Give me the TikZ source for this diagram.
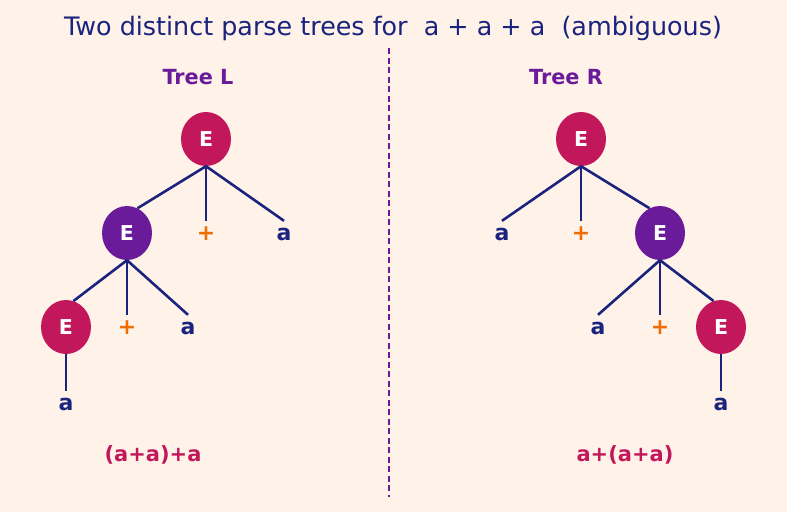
\documentclass[tikz,border=0pt]{standalone}
\usepackage{fontspec}
\setmainfont{DejaVu Sans}
\usetikzlibrary{shapes.geometric}
\definecolor{bgcream}{HTML}{FFF2E8}
\definecolor{crimson}{HTML}{C2185B}
\definecolor{grape}{HTML}{6A1B9A}
\definecolor{navy}{HTML}{1A237E}
\definecolor{tangerine}{HTML}{EF6C00}

\begin{document}
\begin{tikzpicture}
			[x=1pt,y=-1pt,
			nt/.style={ellipse,minimum width=50pt,minimum height=54pt,inner sep=0pt,text=white,font=\fontsize{20.5}{20}\selectfont\bfseries},
			lf/.style={inner sep=0pt,minimum height=26pt,text height=12pt,text depth=0pt,text=navy,font=\fontsize{22}{22}\selectfont\bfseries},
			pl/.style={lf,text=tangerine},
			edge/.style={navy,line width=2.6pt},
			head/.style={text=grape,font=\fontsize{20.8}{21}\selectfont\bfseries},
			res/.style={text=crimson,font=\fontsize{21}{21}\selectfont\bfseries}]
			\fill[bgcream] (0,0) rectangle (787,512);
			\useasboundingbox (0,0) rectangle (787,512);
			
			\node[text=navy,font=\fontsize{25.4}{26}\selectfont] (title) at (393,28) {Two distinct parse trees for\ \ a + a + a\ \ (ambiguous)};
			\draw[grape,line width=1.8pt,dash pattern=on 6pt off 3.5pt] (389,48) -- (389,497);
			
			% tree L
			\node[head] (tl) at (198,77) {Tree L};
			\node[nt,fill=crimson] (L1) at (206,139) {E};
			\node[nt,fill=grape] (L2) at (127,233) {E};
			\node[pl] (L3) at (206,234) {+};
			\node[lf] (L4) at (284,234) {a};
			\node[nt,fill=crimson] (L5) at (66,327) {E};
			\node[pl] (L6) at (127,328) {+};
			\node[lf] (L7) at (188,328) {a};
			\node[lf] (L8) at (66,404) {a};
			\node[res] (rl) at (153,455) {(a+a)+a};
			
			% tree R
			\node[head] (tr) at (566,77) {Tree R};
			\node[nt,fill=crimson] (R1) at (581,139) {E};
			\node[lf] (R2) at (502,234) {a};
			\node[pl] (R3) at (581,234) {+};
			\node[nt,fill=grape] (R4) at (660,233) {E};
			\node[lf] (R5) at (598,328) {a};
			\node[pl] (R6) at (660,328) {+};
			\node[nt,fill=crimson] (R7) at (721,327) {E};
			\node[lf] (R8) at (721,404) {a};
			\node[res] (rr) at (625,455) {a+(a+a)};
			
			\foreach \a/\b in {L1/L2.67,L1/L3.north,L1/L4.north,L2/L5.74,L2/L6.north,L2/L7.north,L5/L8.north,
				R1/R2.north,R1/R3.north,R1/R4.113,R4/R5.north,R4/R6.north,R4/R7.106,R7/R8.north}
			\draw[edge] (\a.south) -- (\b);
\end{tikzpicture}
\end{document}
